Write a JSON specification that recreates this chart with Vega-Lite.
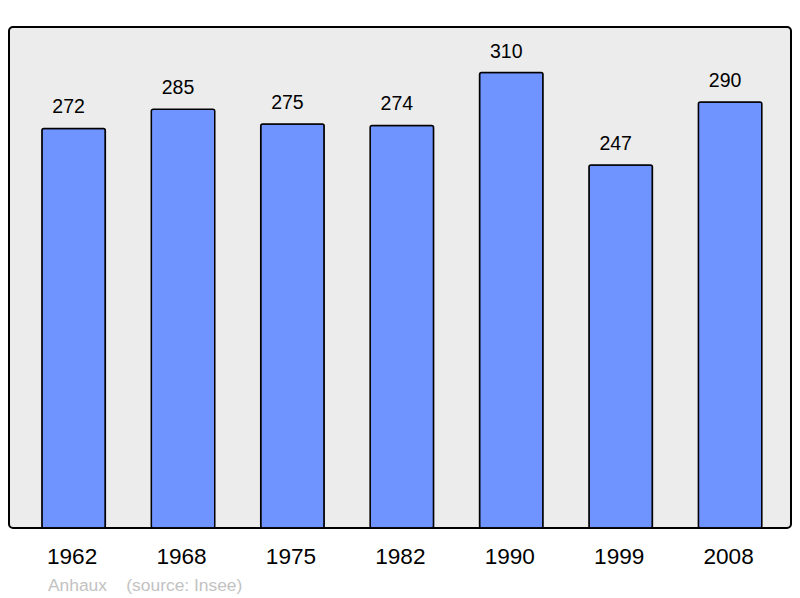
{
  "$schema": "https://vega.github.io/schema/vega-lite/v6.json",
  "autosize": "none",
  "width": 782,
  "height": 501,
  "padding": {"left": 9, "top": 27, "right": 9, "bottom": 70},
  "background": "white",
  "data": {"values": [
    {"year": "1962", "pop": 272},
    {"year": "1968", "pop": 285},
    {"year": "1975", "pop": 275},
    {"year": "1982", "pop": 274},
    {"year": "1990", "pop": 310},
    {"year": "1999", "pop": 247},
    {"year": "2008", "pop": 290}
  ]},
  "title": {
    "text": "Anhaux\u00a0\u00a0\u00a0\u00a0(source: Insee)",
    "orient": "bottom",
    "anchor": "start",
    "dx": 39,
    "offset": 9,
    "font": "Liberation Sans",
    "fontSize": 17.4,
    "fontWeight": "normal",
    "color": "#c2c2c2"
  },
  "encoding": {
    "x": {
      "field": "year", "type": "ordinal",
      "scale": {"paddingInner": 0.42, "paddingOuter": 0.2835, "align": 0.53},
      "axis": {"title": null, "labelAngle": 0, "domain": false, "ticks": false, "labelPadding": 17, "labelFontSize": 22.6, "labelFont": "Liberation Sans", "labelColor": "black", "labelOffset": -1.5}
    },
    "y": {
      "field": "pop", "type": "quantitative",
      "scale": {"domain": [0, 341], "nice": false},
      "axis": null
    }
  },
  "layer": [
    {"mark": {"type": "bar", "fill": "#7094ff", "stroke": "black", "strokeWidth": 1.5, "cornerRadius": 2}},
    {"mark": {"type": "text", "baseline": "middle", "dy": -21, "dx": -5, "font": "Liberation Sans", "fontSize": 19.5, "color": "black"},
     "encoding": {"text": {"field": "pop", "type": "quantitative"}}}
  ],
  "config": {
    "view": {"fill": "#ececec", "stroke": "black", "strokeWidth": 2, "cornerRadius": 4}
  }
}
